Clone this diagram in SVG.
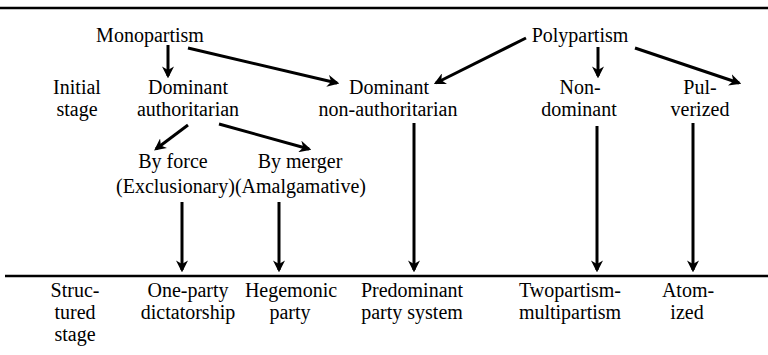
<svg xmlns="http://www.w3.org/2000/svg" width="768" height="355" viewBox="0 0 768 355">
<style>
.t text{font-size:20px;fill:#000;text-anchor:middle}
.rule{stroke:#000;stroke-width:2.5;fill:none}
.conn{stroke:#000;stroke-width:3;fill:none;marker-end:url(#ah)}
</style>
<defs>
<marker id="ah" markerUnits="userSpaceOnUse" viewBox="0 0 10 10" refX="8" refY="5" markerWidth="12" markerHeight="12" orient="auto">
<path d="M0,0 L10,5 L0,10 L3,5 z" fill="#000"/>
</marker>
</defs>
<rect width="768" height="355" fill="#fff"/>
<line class="rule" x1="0" y1="8" x2="768" y2="8"/>
<line class="rule" x1="5" y1="276" x2="768" y2="276"/>

<g class="t" font-family="Liberation Serif, Times New Roman, DejaVu Serif, serif">
<g id="monopartism"><text x="150" y="42">Monopartism</text></g>
<g id="polypartism"><text x="580" y="42">Polypartism</text></g>
<g id="initial-stage"><text x="77" y="94">Initial</text><text x="77" y="116">stage</text></g>
<g id="dominant-authoritarian"><text x="188" y="94">Dominant</text><text x="188" y="116">authoritarian</text></g>
<g id="dominant-non-authoritarian"><text x="389" y="94">Dominant</text><text x="388" y="116">non-authoritarian</text></g>
<g id="non-dominant"><text x="580" y="94">Non-</text><text x="579" y="116">dominant</text></g>
<g id="pulverized"><text x="700" y="94">Pul-</text><text x="700" y="116">verized</text></g>
<g id="by-force"><text x="173" y="168">By force</text></g>
<g id="by-merger"><text x="300" y="168">By merger</text></g>
<g id="subtypes"><text x="241" y="193">(Exclusionary)(Amalgamative)</text></g>
<g id="structured-stage"><text x="75" y="297">Struc-</text><text x="75" y="319">tured</text><text x="75" y="341">stage</text></g>
<g id="one-party"><text x="188" y="297">One-party</text><text x="188" y="319">dictatorship</text></g>
<g id="hegemonic"><text x="291" y="297">Hegemonic</text><text x="290" y="319">party</text></g>
<g id="predominant"><text x="412" y="297">Predominant</text><text x="412" y="319">party system</text></g>
<g id="twopartism"><text x="570" y="297">Twopartism-</text><text x="570" y="319">multipartism</text></g>
<g id="atomized"><text x="688" y="297">Atom-</text><text x="687" y="319">ized</text></g>
</g>

<g id="connectors">
<line class="conn" x1="168" y1="45" x2="168" y2="76"/>
<line class="conn" x1="188" y1="48" x2="337" y2="83"/>
<line class="conn" x1="188" y1="125" x2="156" y2="149"/>
<line class="conn" x1="219" y1="124" x2="309" y2="149"/>
<line class="conn" x1="526" y1="38" x2="436" y2="83"/>
<line class="conn" x1="598" y1="47" x2="598" y2="76"/>
<line class="conn" x1="635" y1="48" x2="739" y2="83"/>
<line class="conn" x1="182" y1="202" x2="182" y2="270"/>
<line class="conn" x1="279" y1="202" x2="279" y2="270"/>
<line class="conn" x1="414" y1="123" x2="414" y2="270"/>
<line class="conn" x1="597" y1="126" x2="597" y2="270"/>
<line class="conn" x1="693" y1="123" x2="693" y2="270"/>
</g>
</svg>
